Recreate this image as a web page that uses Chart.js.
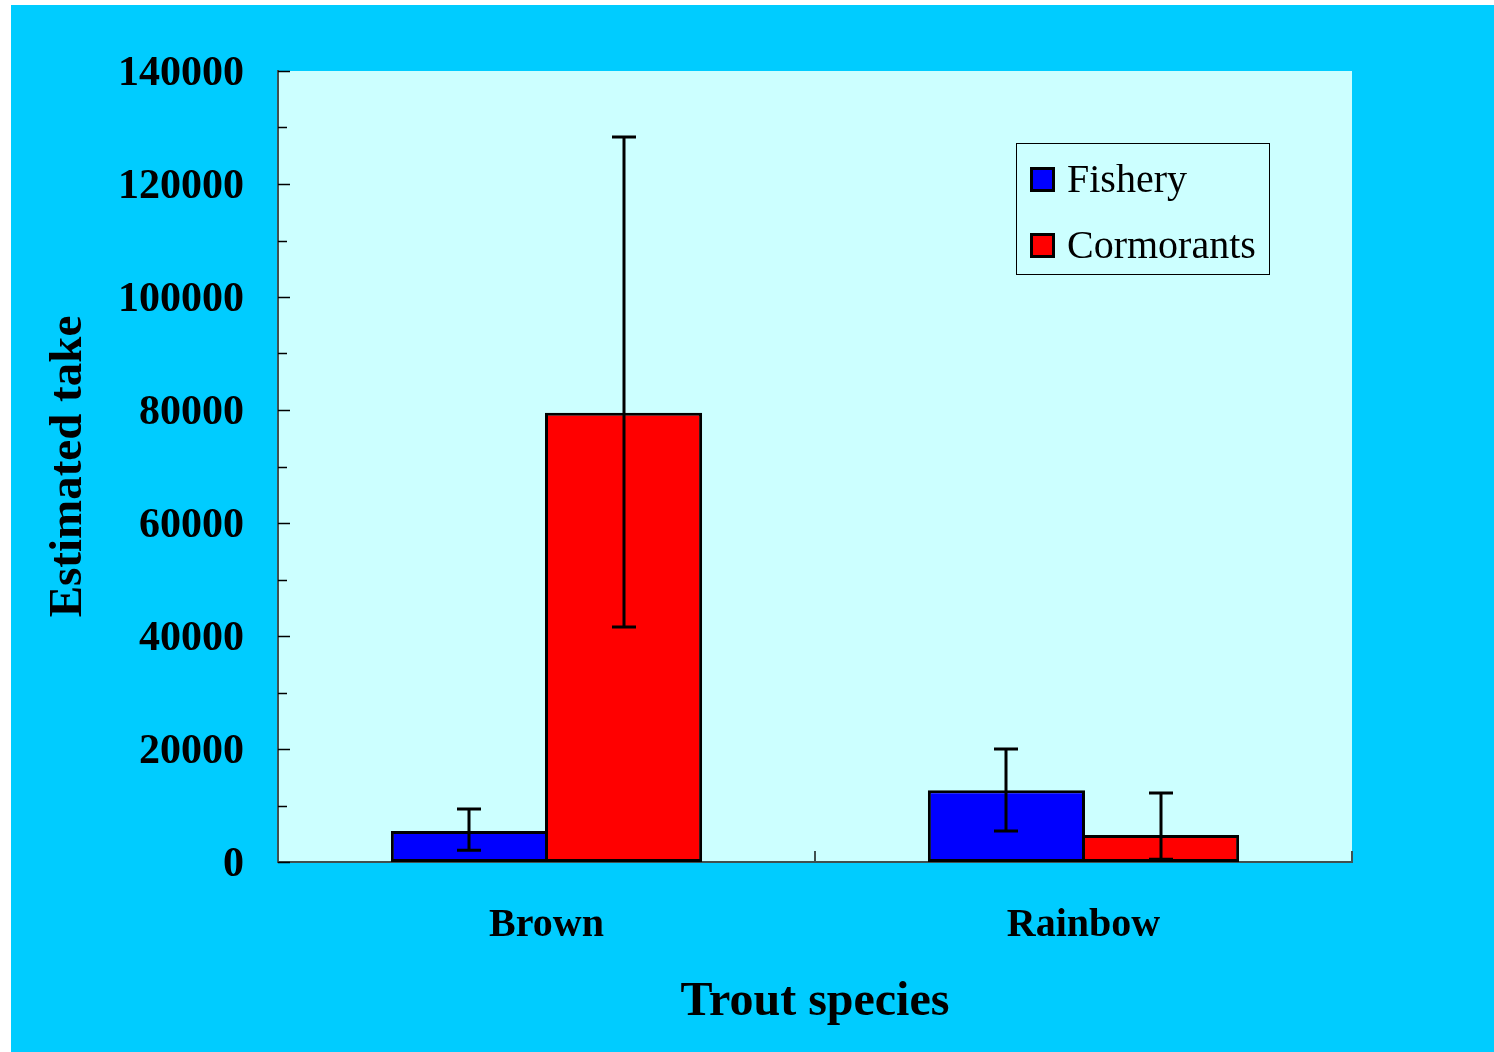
<!DOCTYPE html>
<html>
<head>
<meta charset="utf-8">
<script src="https://cdn.jsdelivr.net/npm/chart.js@4/dist/chart.umd.min.js"></script>
<style>
  body { margin: 0; background: #ffffff; }
  #bg { position: absolute; left: 11px; top: 5px; width: 1483px; height: 1047px; background: #00CCFF; }
  #wrap { position: absolute; left: 0; top: 0; width: 1494px; height: 1052px; }
  #legend {
    position: absolute; left: 1016px; top: 143px; width: 252px; height: 130px;
    border: 1px solid #000; font-family: "Liberation Serif", "Times New Roman", serif;
  }
  .mark { position: absolute; width: 25px; height: 25px; box-sizing: border-box; border: 3px solid #000; }
  .txt { position: absolute; font-size: 40px; line-height: 40px; color: #000; white-space: nowrap; }
</style>
</head>
<body>
<div id="bg"></div>
<div id="wrap"><canvas id="chart" width="1494" height="1052"></canvas></div>
<div id="legend"></div>
<script>
// ---- data ----
const categories = ['Brown', 'Rainbow'];
const fishery = [5500, 12700];
const cormorants = [79500, 4800];
// error bar ends (upper / lower)
const fisheryHigh = [9400, 20000];
const fisheryLow = [2100, 5500];
const cormorantsHigh = [128300, 12200];
const cormorantsLow = [41600, 500];

const errorHigh = [fisheryHigh, cormorantsHigh];
const errorLow = [fisheryLow, cormorantsLow];

const SERIF = '"Liberation Serif", "Times New Roman", serif';

// light plot background
const plotBg = {
  id: 'plotBg',
  beforeDraw(chart) {
    const { ctx, chartArea: a } = chart;
    ctx.save();
    ctx.fillStyle = '#CCFFFF';
    ctx.fillRect(a.left, a.top, a.right - a.left, a.bottom - a.top);
    ctx.restore();
  }
};

// inside tick marks (major + minor on y, category dividers on x)
const tickMarks = {
  id: 'tickMarks',
  afterDraw(chart) {
    const { ctx, chartArea: a } = chart;
    const y = chart.scales.y, x = chart.scales.x;
    ctx.save();
    ctx.strokeStyle = '#000';
    ctx.lineWidth = 1.5;
    for (let v = 0; v <= 140000; v += 10000) {
      const py = Math.round(y.getPixelForValue(v)) + 0.5;
      const len = v % 20000 === 0 ? 12 : 9;
      ctx.beginPath();
      ctx.moveTo(a.left, py);
      ctx.lineTo(a.left + len, py);
      ctx.stroke();
    }
    ctx.strokeStyle = '#405050';
    ctx.lineWidth = 2;
    const mid = (x.getPixelForValue(0) + x.getPixelForValue(1)) / 2;
    [mid, a.right].forEach(px => {
      ctx.beginPath();
      ctx.moveTo(px, a.bottom);
      ctx.lineTo(px, a.bottom - 11);
      ctx.stroke();
    });
    ctx.restore();
  }
};

// error bars
const errorBars = {
  id: 'errorBars',
  afterDatasetsDraw(chart) {
    const { ctx } = chart;
    const y = chart.scales.y;
    ctx.save();
    ctx.strokeStyle = '#000';
    ctx.lineWidth = 3;
    chart.data.datasets.forEach((ds, i) => {
      const meta = chart.getDatasetMeta(i);
      meta.data.forEach((bar, j) => {
        const top = y.getPixelForValue(errorHigh[i][j]);
        const bot = y.getPixelForValue(errorLow[i][j]);
        const cx = Math.round(bar.x);
        ctx.beginPath();
        ctx.moveTo(cx, top); ctx.lineTo(cx, bot);
        ctx.moveTo(cx - 12, top); ctx.lineTo(cx + 12, top);
        ctx.moveTo(cx - 12, bot); ctx.lineTo(cx + 12, bot);
        ctx.stroke();
      });
    });
    ctx.restore();
  }
};

const chart = new Chart(document.getElementById('chart'), {
  type: 'bar',
  data: {
    labels: categories,
    datasets: [
      { label: 'Fishery', data: fishery, backgroundColor: '#0000FF' },
      { label: 'Cormorants', data: cormorants, backgroundColor: '#FF0000' }
    ]
  },
  options: {
    responsive: false,
    devicePixelRatio: 1,
    animation: false,
    layout: { padding: { top: 71, right: 142, bottom: 0, left: 0 } },
    datasets: {
      bar: {
        borderColor: '#000',
        borderWidth: 3,
        borderSkipped: false,
        barPercentage: 1.0195, // slight overlap so neighbouring bars share one border
        categoryPercentage: 0.574
      }
    },
    plugins: { legend: { display: false }, tooltip: { enabled: false } },
    scales: {
      x: {
        grid: { display: false, drawTicks: false },
        border: { display: true, color: '#405050', width: 2 },
        ticks: { color: '#000', padding: 40, font: { family: SERIF, size: 40, weight: 'bold' } },
        title: {
          display: true, text: 'Trout species', color: '#000',
          font: { family: SERIF, size: 48, weight: 'bold' },
          padding: { top: 0, bottom: 21 }
        },
        afterFit(scale) { scale.height = 190; }
      },
      y: {
        min: 0, max: 140000,
        grid: { display: false, drawTicks: false },
        border: { display: true, color: '#405050', width: 2 },
        ticks: {
          stepSize: 20000, color: '#000', padding: 34, labelOffset: 3,
          font: { family: SERIF, size: 42, weight: 'bold' },
          callback: (val) => String(val)
        },
        title: {
          display: true, text: 'Estimated take', color: '#000',
          font: { family: SERIF, size: 47, weight: 'bold' },
          padding: { top: 41, bottom: 0 }
        },
        afterFit(scale) { scale.width = 278; }
      }
    }
  },
  plugins: [plotBg, errorBars, tickMarks]
});

// html legend built from the datasets
const legend = document.getElementById('legend');
chart.data.datasets.forEach((ds, i) => {
  const m = document.createElement('div');
  m.className = 'mark';
  m.style.left = '13px';
  m.style.top = (23 + i * 66) + 'px';
  m.style.background = ds.backgroundColor;
  legend.appendChild(m);
  const t = document.createElement('div');
  t.className = 'txt';
  t.style.left = '50px';
  t.style.top = (15 + i * 66) + 'px';
  t.textContent = ds.label;
  legend.appendChild(t);
});
</script>
</body>
</html>
